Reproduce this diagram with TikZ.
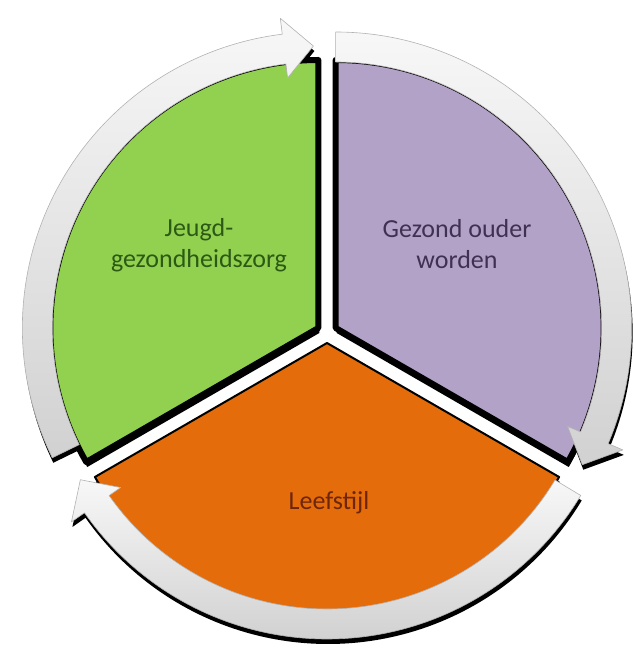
\documentclass[tikz,border=0pt]{standalone}
\usepackage{fontspec}
\setmainfont{Carlito}
\usetikzlibrary{positioning}

\definecolor{jgzgreen}{HTML}{92D050}
\definecolor{ouderpurple}{HTML}{B3A2C7}
\definecolor{stijlorange}{HTML}{E46C0A}
\definecolor{jgztext}{HTML}{2C5A14}
\definecolor{oudertext}{HTML}{3F3151}
\definecolor{stijltext}{HTML}{6E260A}

\begin{document}
\begin{tikzpicture}[
    x=1pt, y=1pt,
    part/.style={draw=black, line width=6pt, line join=round},
    ringarrow/.style={top color=black!3, bottom color=black!18, draw=black!30, line width=0.6pt, line join=round},
    shadowpart/.style={fill=black},
    label/.style={font=\fontsize{26}{31}\selectfont, align=center}
  ]
    \useasboundingbox (0,0) rectangle (633,648);

    % shadows below the parts and the ring arrows
    \foreach \cx/\cy/\a/\b/\s/\e/\h in {318.34/320/210/90/206/91/97, 335.66/320/90/-30/90/-29/-23, 327/305/330/210/329/209/215} {
      \begin{scope}[shift={(\cx+1,\cy-5)}]
        \fill[shadowpart] (0,0) -- (\a:268) arc[start angle=\a, end angle=\b, radius=268] -- cycle;
        \fill[shadowpart] (\s:296) arc[start angle=\s, end angle=\h, radius=296] -- (\h:312) -- (\e:282) -- (\h:252) -- (\h:266) arc[start angle=\h, end angle=\s, radius=266] -- cycle;
      \end{scope}
    }

    % the three parts
    \foreach \cx/\cy/\a/\b/\col/\w in {318.34/320/210/90/jgzgreen/6, 335.66/320/90/-30/ouderpurple/6, 327/305/330/210/stijlorange/2} {
      \begin{scope}[shift={(\cx,\cy)}]
        \filldraw[part, fill=\col, line width=\w pt] (0,0) -- (\a:268) arc[start angle=\a, end angle=\b, radius=268] -- cycle;
      \end{scope}
    }

    % ring arrows, clockwise
    \foreach \cx/\cy/\s/\e/\h in {318.34/320/206/91/97, 335.66/320/90/-29/-23, 327/305/329/209/215} {
      \begin{scope}[shift={(\cx,\cy)}]
        \shade[ringarrow] (\s:296) arc[start angle=\s, end angle=\h, radius=296] -- (\h:312) -- (\e:282) -- (\h:252) -- (\h:266) arc[start angle=\h, end angle=\s, radius=266] -- cycle;
      \end{scope}
    }

    \node[label, text=jgztext] (jgz) at (199,403) {Jeugd-\\gezondheidszorg};
    \node[label, text=oudertext] (ouder) at (457,404) {Gezond ouder\\worden};
    \node[label, text=stijltext] (stijl) at (329,145) {Leefstijl};
  \end{tikzpicture}
\end{document}
